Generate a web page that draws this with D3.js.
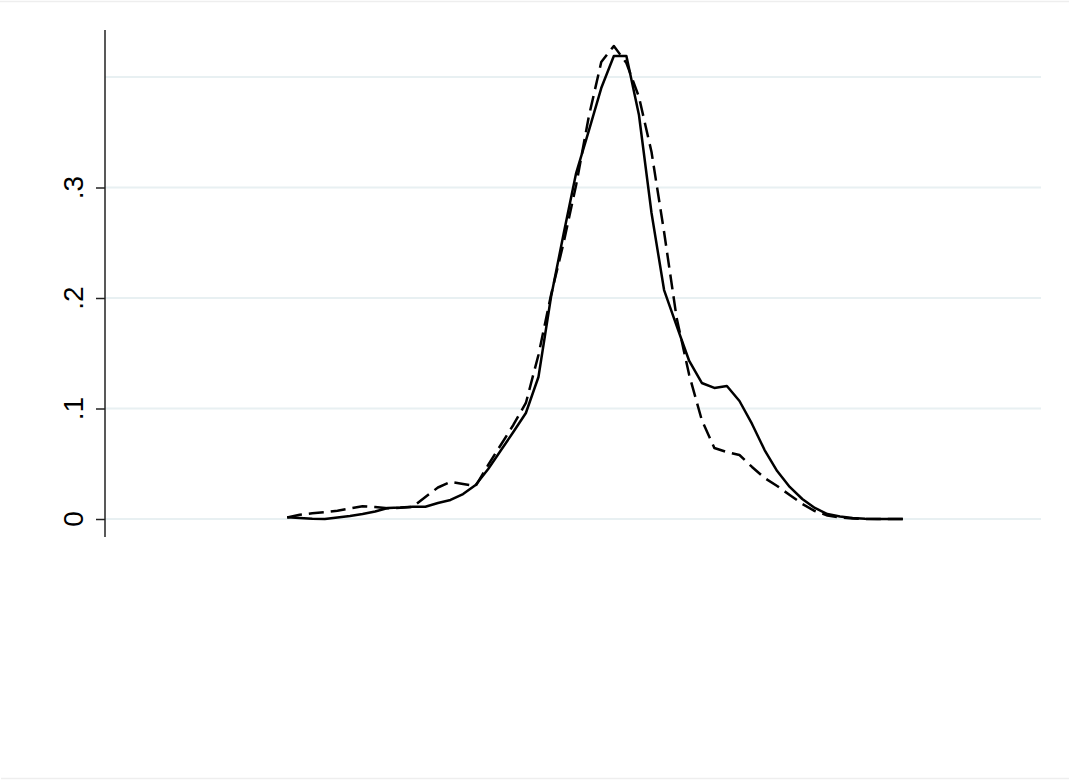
<!DOCTYPE html>
<html>
<head>
<meta charset="utf-8">
<script src="https://d3js.org/d3.v7.min.js"></script>
<style>
	body { margin: 0; background: #fff; }
	.grid line { stroke: #e8f0f2; stroke-width: 2px; }
	.line { fill: none; stroke: #000; stroke-width: 2.5px; stroke-linejoin: round; }
	.dashed { stroke-dasharray: 15, 7; }
	.tick-label { font-family: "Liberation Sans", Arial, sans-serif; font-size: 28px; fill: #000; }
</style>
</head>
<body>
<svg id="chart" width="1069" height="780"></svg>
<script>
	// evaluation points (50 points, shared by both curves)
	var xs = [0, 1, 2, 3, 4, 5, 6, 7, 8, 9,
		10, 11, 12, 13, 14, 15, 16, 17, 18, 19,
		20, 21, 22, 23, 24, 25, 26, 27, 28, 29,
		30, 31, 32, 33, 34, 35, 36, 37, 38, 39,
		40, 41, 42, 43, 44, 45, 46, 47, 48, 49];

	// solid curve
	var solid = [0.0015, 0.0009, 0.0002, 0.0000, 0.0014, 0.0027, 0.0045, 0.0068, 0.0100, 0.0104,
		0.0111, 0.0111, 0.0145, 0.0172, 0.0226, 0.0308, 0.0452, 0.0620, 0.0787, 0.0959,
		0.1285, 0.2009, 0.2579, 0.3131, 0.3511, 0.3900, 0.4190, 0.4190, 0.3656, 0.2769,
		0.2072, 0.1747, 0.1430, 0.1231, 0.1186, 0.1204, 0.1068, 0.0860, 0.0624, 0.0434,
		0.0290, 0.0181, 0.0100, 0.0045, 0.0023, 0.0009, 0.0003, 0.0001, 0.0000, 0.0000];

	// dashed curve
	var dashed = [0.0014, 0.0038, 0.0052, 0.0062, 0.0075, 0.0095, 0.0116, 0.0109, 0.0097, 0.0101,
		0.0111, 0.0199, 0.0285, 0.0335, 0.0317, 0.0299, 0.0489, 0.0670, 0.0851, 0.1050,
		0.1484, 0.2027, 0.2498, 0.3023, 0.3638, 0.4136, 0.4281, 0.4127, 0.3819, 0.3321,
		0.2597, 0.1819, 0.1303, 0.0896, 0.0643, 0.0606, 0.0579, 0.0471, 0.0371, 0.0299,
		0.0217, 0.0136, 0.0072, 0.0032, 0.0014, 0.0005, 0.0000, 0.0000, 0.0000, 0.0000];

	var yTicks = [0, 0.1, 0.2, 0.3];
	var yTickLabels = ["0", ".1", ".2", ".3"];
	var yGrid = [0, 0.1, 0.2, 0.3, 0.4];

	var svg = d3.select("#chart");

	// faint outer frame (top and bottom edges)
	svg.append("line")
		.attr("x1", 0).attr("x2", 1069).attr("y1", 1.5).attr("y2", 1.5)
		.attr("stroke", "#eeeeee").attr("stroke-width", 1.5);
	svg.append("line")
		.attr("x1", 1).attr("x2", 1069).attr("y1", 778.5).attr("y2", 778.5)
		.attr("stroke", "#eeeeee").attr("stroke-width", 1.5);

	var x = d3.scaleLinear()
		.domain([-14.5, 60])
		.range([105, 1041]);

	var y = d3.scaleLinear()
		.domain([0, 0.4])
		.range([519, 77]);

	// grid lines
	svg.append("g")
		.attr("class", "grid")
		.selectAll("line")
		.data(yGrid)
		.enter().append("line")
		.attr("x1", x(-14.5))
		.attr("x2", x(60))
		.attr("y1", function(d) { return y(d); })
		.attr("y2", function(d) { return y(d); });

	// y axis
	var yAxis = d3.axisLeft(y)
		.tickValues(yTicks)
		.tickSize(9)
		.tickSizeOuter(0)
		.tickFormat("");

	var ax = svg.append("g")
		.attr("transform", "translate(105,0)")
		.call(yAxis);
	ax.select(".domain").remove();
	ax.selectAll(".tick line").attr("stroke", "#222").attr("stroke-width", 1.5);

	svg.append("line")
		.attr("x1", 105).attr("x2", 105)
		.attr("y1", y(-0.0163)).attr("y2", y(0.4425))
		.attr("stroke", "#222")
		.attr("stroke-width", 1.5);

	svg.append("g")
		.selectAll("text")
		.data(yTicks)
		.enter().append("text")
		.attr("class", "tick-label")
		.attr("text-anchor", "middle")
		.attr("transform", function(d) { return "translate(83," + y(d) + ") rotate(-90)"; })
		.text(function(d, i) { return yTickLabels[i]; });

	var line = d3.line()
		.x(function(d) { return x(d[0]); })
		.y(function(d) { return y(d[1]); });

	svg.append("path")
		.datum(xs.map(function(v, i) { return [v, dashed[i]]; }))
		.attr("class", "line dashed")
		.attr("d", line);

	svg.append("path")
		.datum(xs.map(function(v, i) { return [v, solid[i]]; }))
		.attr("class", "line")
		.attr("d", line);
</script>
</body>
</html>
